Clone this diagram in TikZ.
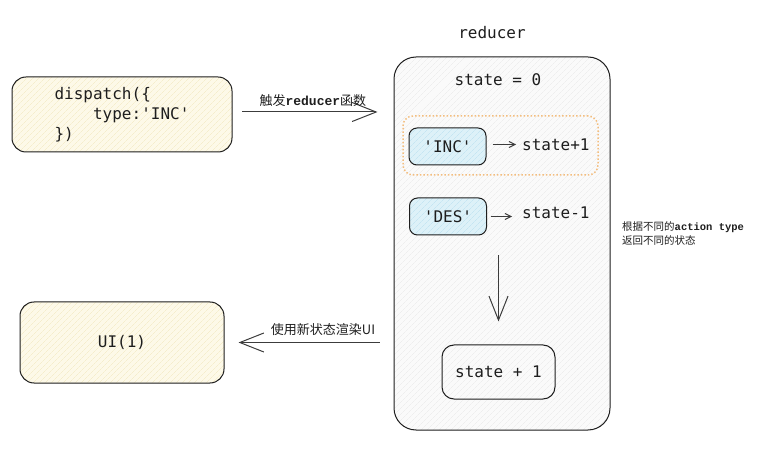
\documentclass[tikz,border=0pt]{standalone}
\usepackage{fontspec}
\setmonofont{DejaVu Sans Mono}
\newfontfamily\cjk{Noto Sans CJK SC}
\newfontfamily\labelmono{Liberation Mono}
\usetikzlibrary{arrows.meta,patterns.meta}

\definecolor{inkgray}{HTML}{1E1E1E}
\definecolor{arrowgray}{HTML}{3C3C3C}
\definecolor{yellowfill}{HTML}{FDF9E8}
\definecolor{yellowhatch}{HTML}{F1E7BE}
\definecolor{grayfill}{HTML}{FAFAFA}
\definecolor{grayhatch}{HTML}{E8E8E8}
\definecolor{bluefill}{HTML}{DDF1F8}
\definecolor{bluehatch}{HTML}{B9E0EF}
\definecolor{dotorange}{HTML}{F3BD7E}

\newcommand{\codefont}{\fontsize{16}{20}\selectfont\ttfamily}
\newcommand{\notefont}{\fontsize{13}{15}\selectfont}
\newcommand{\smallnote}{\fontsize{10.5}{14}\selectfont}

\tikzset{
	sketchbox/.style={draw=inkgray, line width=1pt, inner sep=0pt, font=\codefont, text=inkgray},
	hatched/.style 2 args={preaction={fill=#1}, pattern={Lines[angle=45,distance=4pt,line width=0.45pt]}, pattern color=#2},
	yellowbox/.style={sketchbox, hatched={yellowfill}{yellowhatch}, rounded corners=14pt},
	reducerbox/.style={sketchbox, hatched={grayfill}{grayhatch}, rounded corners=22pt},
	typebox/.style={sketchbox, hatched={bluefill}{bluehatch}, rounded corners=8pt, minimum width=77pt, minimum height=37pt},
	codetext/.style={font=\codefont, text=inkgray, inner sep=0pt},
	bigarrow/.style={draw=arrowgray, line width=1pt, -{Straight Barb[length=24pt,width=19pt]}},
	tinyarrow/.style={draw=arrowgray, line width=1pt, -{Straight Barb[length=6pt,width=6pt]}},
}

\begin{document}
\begin{tikzpicture}[x=1pt, y=-1pt]
	\useasboundingbox (0,0) rectangle (782,454);
	% left side
	\node[yellowbox, minimum width=220pt, minimum height=75pt, align=left] (dispatch) at (122,114.5) {dispatch(\{\\\ \ \ \ type:'INC'\\\})};
	\node[yellowbox, minimum width=204pt, minimum height=81pt] (ui) at (122,342.5) {UI(1)};

	% reducer
	\node[codetext] (title) at (492,33) {reducer};
	\node[reducerbox, minimum width=216pt, minimum height=373pt] (reducer) at (502,243.5) {};
	\node[codetext] (state0) at (498,80) {state = 0};
	\node[draw=dotorange, line width=1.5pt, dotted, rounded corners=10pt, minimum width=195pt, minimum height=59pt] (match) at (500.5,145.5) {};
	\node[typebox] (inc) at (447.5,146.5) {'INC'};
	\node[typebox] (des) at (448,216.5) {'DES'};
	\node[codetext, anchor=west] (incres) at (522,145) {state+1};
	\node[codetext, anchor=west] (desres) at (522,213) {state-1};
	\node[sketchbox, rounded corners=12pt, minimum width=113pt, minimum height=54pt] (newstate) at (498.5,372) {state + 1};

	\node[font=\smallnote, text=inkgray, align=left, anchor=north west, inner sep=0pt] (note) at (622,221)
		{{\cjk 根据不同的}{\labelmono\bfseries action type}\\{\cjk 返回不同的状态}};

	% connectors
	\draw[bigarrow, shorten <=10pt, shorten >=16pt] ([yshift=2.5pt]dispatch.east) -- ([yshift=2.5pt]dispatch.east -| reducer.west)
		node[midway, above=5pt, font=\notefont, text=inkgray, inner sep=0pt] (trigger) {{\cjk 触发}{\labelmono\bfseries reducer}{\cjk 函数}};
	\draw[bigarrow, shorten <=14pt, shorten >=14pt] (ui.east -| reducer.west) -- (ui.east)
		node[midway, above=6pt, xshift=14pt, font=\notefont, text=inkgray, inner sep=0pt] (render) {{\cjk 使用新状态渲染UI}};
	\draw[tinyarrow, shorten <=6pt, shorten >=6pt] ([yshift=2pt]inc.east) -- ([yshift=2pt]inc.east -| incres.west);
	\draw[tinyarrow, shorten <=4pt, shorten >=10pt] (des.east) -- (des.east -| desres.west);
	\draw[bigarrow, shorten <=20pt, shorten >=23pt] (des.south -| newstate.north) -- (newstate.north);
\end{tikzpicture}
\end{document}
